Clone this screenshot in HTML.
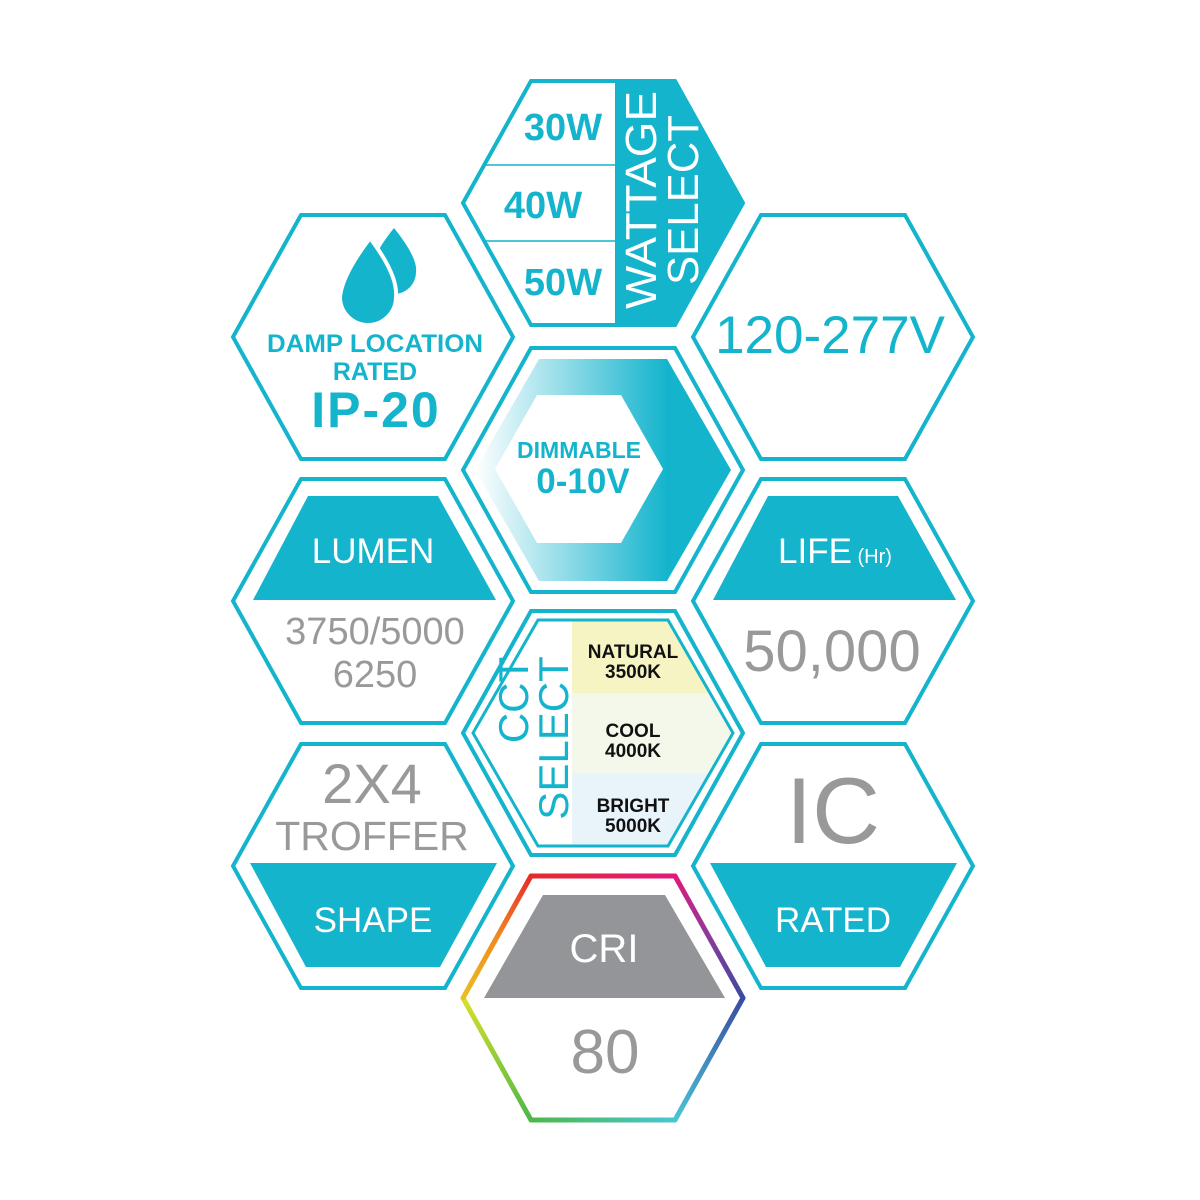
<!DOCTYPE html>
<html><head><meta charset="utf-8"><style>html,body{margin:0;padding:0;background:#fff}svg{display:block}</style></head>
<body>
<svg width="1200" height="1200" viewBox="0 0 1200 1200" xmlns="http://www.w3.org/2000/svg" font-family="'Liberation Sans', sans-serif">
<defs>
<linearGradient id="dg" x1="475" y1="0" x2="731" y2="0" gradientUnits="userSpaceOnUse">
<stop offset="0" stop-color="#ffffff"/><stop offset="0.75" stop-color="#14b4cd"/><stop offset="1" stop-color="#14b4cd"/></linearGradient>
<clipPath id="cc"><polygon points="473,733 538,620 668,620 733,733 668,846 538,846"/></clipPath>
<linearGradient id="e1" x1="531" y1="876" x2="675" y2="876" gradientUnits="userSpaceOnUse"><stop offset="0" stop-color="#e52a2a"/><stop offset="1" stop-color="#e0197e"/></linearGradient>
<linearGradient id="e2" x1="675" y1="876" x2="743" y2="998" gradientUnits="userSpaceOnUse"><stop offset="0" stop-color="#e0197e"/><stop offset="0.5" stop-color="#8a3a9a"/><stop offset="1" stop-color="#3a4aa0"/></linearGradient>
<linearGradient id="e3" x1="743" y1="998" x2="675" y2="1120" gradientUnits="userSpaceOnUse"><stop offset="0" stop-color="#3a4aa0"/><stop offset="1" stop-color="#49c6d6"/></linearGradient>
<linearGradient id="e4" x1="675" y1="1120" x2="531" y2="1120" gradientUnits="userSpaceOnUse"><stop offset="0" stop-color="#49c6d6"/><stop offset="1" stop-color="#4cb848"/></linearGradient>
<linearGradient id="e5" x1="531" y1="1120" x2="463" y2="998" gradientUnits="userSpaceOnUse"><stop offset="0" stop-color="#4cb848"/><stop offset="1" stop-color="#d8e02a"/></linearGradient>
<linearGradient id="e6" x1="463" y1="998" x2="531" y2="876" gradientUnits="userSpaceOnUse"><stop offset="0" stop-color="#e8c020"/><stop offset="0.5" stop-color="#f08a20"/><stop offset="1" stop-color="#e52a2a"/></linearGradient>
</defs>
<g fill="none" stroke="#14b4cd" stroke-width="4" stroke-linejoin="miter">
<polygon points="233,337 301,215 445,215 513,337 445,459 301,459"/>
<polygon points="233,601 301,479 445,479 513,601 445,723 301,723"/>
<polygon points="233,866 301,744 445,744 513,866 445,988 301,988"/>
<polygon points="693,337 761,215 905,215 973,337 905,459 761,459"/>
<polygon points="693,601 761,479 905,479 973,601 905,723 761,723"/>
<polygon points="693,866 761,744 905,744 973,866 905,988 761,988"/>
<polygon points="463,203 531,81 675,81 743,203 675,325 531,325"/>
<polygon points="463,470 531,348 675,348 743,470 675,592 531,592"/>
<polygon points="463,733 531,611 675,611 743,733 675,855 531,855"/>
</g>
<!-- wattage -->
<polygon points="615,81 675,81 743,203 675,325 615,325" fill="#14b4cd"/>
<line x1="484" y1="165" x2="615" y2="165" stroke="#14b4cd" stroke-width="1.5"/>
<line x1="484" y1="241" x2="615" y2="241" stroke="#14b4cd" stroke-width="1.5"/>
<g fill="#14b4cd" font-weight="bold" font-size="38" text-anchor="middle">
<text x="563" y="140">30W</text><text x="543" y="218">40W</text><text x="563" y="295">50W</text></g>
<g fill="#fff" font-size="44" text-anchor="middle">
<text transform="translate(656,200) rotate(-90)" textLength="218" lengthAdjust="spacingAndGlyphs">WATTAGE</text>
<text transform="translate(698,200) rotate(-90)" textLength="170" lengthAdjust="spacingAndGlyphs">SELECT</text></g>
<!-- damp -->
<path d="M394,228 Q418,258 416,272 A22,22 0 1 1 372,272 Q370,258 394,228 Z" fill="#14b4cd"/>
<path d="M370,238 Q398,275 396,297 A28,28 0 1 1 340,297 Q342,275 370,238 Z" fill="#14b4cd" stroke="#fff" stroke-width="4"/>
<g fill="#14b4cd" font-weight="bold" text-anchor="middle">
<text x="375" y="352" font-size="25" textLength="216" lengthAdjust="spacingAndGlyphs">DAMP LOCATION</text>
<text x="375" y="380" font-size="25">RATED</text>
<text x="376" y="427" font-size="50" letter-spacing="2">IP-20</text></g>
<text x="830" y="353" fill="#14b4cd" font-size="53" text-anchor="middle">120-277V</text>
<!-- dimmable -->
<polygon points="475,470 539,359 667,359 731,470 667,581 539,581" fill="url(#dg)"/>
<polygon points="495,469 537,395 621,395 663,469 621,543 537,543" fill="#fff"/>
<g fill="#14b4cd" font-weight="bold" text-anchor="middle">
<text x="579" y="458" font-size="23">DIMMABLE</text>
<text x="583" y="493" font-size="35">0-10V</text></g>
<!-- lumen -->
<polygon points="308,496 438,496 496,600 253,600" fill="#14b4cd"/>
<g text-anchor="middle">
<text x="373" y="563" fill="#fff" font-size="35">LUMEN</text>
<text x="375" y="644" fill="#999" font-size="38">3750/5000</text>
<text x="375" y="687" fill="#999" font-size="38">6250</text></g>
<!-- life -->
<polygon points="768,496 898,496 956,600 713,600" fill="#14b4cd"/>
<text x="835" y="563" fill="#fff" text-anchor="middle" font-size="35">LIFE<tspan font-size="20"> (Hr)</tspan></text>
<text x="832" y="671" fill="#999" text-anchor="middle" font-size="58">50,000</text>
<!-- shape -->
<polygon points="250,863 497,863 440,967 306,967" fill="#14b4cd"/>
<g text-anchor="middle">
<text x="372" y="803" fill="#999" font-size="56">2X4</text>
<text x="372" y="850" fill="#999" font-size="41">TROFFER</text>
<text x="373" y="932" fill="#fff" font-size="35">SHAPE</text></g>
<!-- IC -->
<polygon points="710,863 957,863 900,967 766,967" fill="#14b4cd"/>
<g text-anchor="middle">
<text x="833" y="843" fill="#999" font-size="94">IC</text>
<text x="833" y="932" fill="#fff" font-size="35">RATED</text></g>
<!-- CCT -->
<g clip-path="url(#cc)">
<rect x="572" y="612" width="170" height="81" fill="#f7f4c4"/>
<rect x="572" y="693" width="170" height="80" fill="#f4f8ea"/>
<rect x="572" y="773" width="170" height="80" fill="#e9f3fa"/></g>
<polygon points="473,733 538,620 668,620 733,733 668,846 538,846" fill="none" stroke="#14b4cd" stroke-width="3"/>
<g fill="#111" font-weight="bold" font-size="19" text-anchor="middle">
<text x="633" y="658">NATURAL</text><text x="633" y="678">3500K</text>
<text x="633" y="737">COOL</text><text x="633" y="757">4000K</text>
<text x="633" y="812">BRIGHT</text><text x="633" y="832">5000K</text></g>
<g fill="#14b4cd" font-size="42" text-anchor="middle">
<text transform="translate(528,700) rotate(-90)">CCT</text>
<text transform="translate(568,738) rotate(-90)">SELECT</text></g>
<!-- CRI -->
<g stroke-width="5" stroke-linecap="round" fill="none">
<line x1="531" y1="876" x2="675" y2="876" stroke="url(#e1)"/>
<line x1="675" y1="876" x2="743" y2="998" stroke="url(#e2)"/>
<line x1="743" y1="998" x2="675" y2="1120" stroke="url(#e3)"/>
<line x1="675" y1="1120" x2="531" y2="1120" stroke="url(#e4)"/>
<line x1="531" y1="1120" x2="463" y2="998" stroke="url(#e5)"/>
<line x1="463" y1="998" x2="531" y2="876" stroke="url(#e6)"/></g>
<polygon points="543,895 665,895 725,998 484,998" fill="#939598"/>
<text x="604" y="962" fill="#fff" font-size="40" text-anchor="middle">CRI</text>
<text x="605" y="1073" fill="#999" font-size="62" text-anchor="middle">80</text>
</svg>
</body></html>
